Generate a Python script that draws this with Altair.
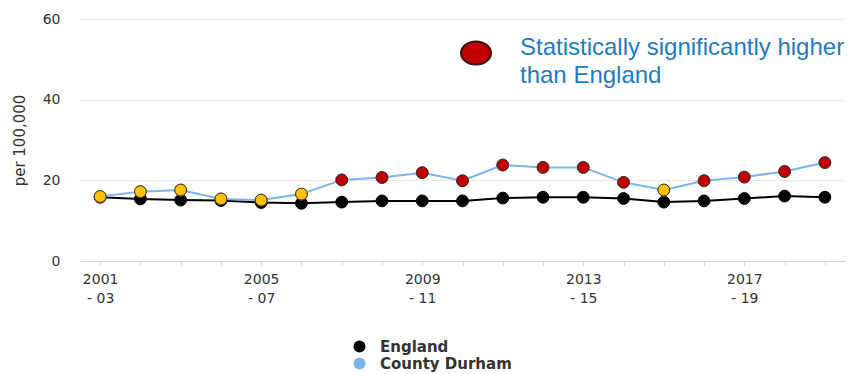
import altair as alt
import pandas as pd

# Three-year rolling periods
periods = [
    "2001 - 03", "2002 - 04", "2003 - 05", "2004 - 06", "2005 - 07",
    "2006 - 08", "2007 - 09", "2008 - 10", "2009 - 11", "2010 - 12",
    "2011 - 13", "2012 - 14", "2013 - 15", "2014 - 16", "2015 - 17",
    "2016 - 18", "2017 - 19", "2018 - 20", "2019 - 21",
]

# Rates per 100,000
england = [15.8, 15.4, 15.1, 15.0, 14.5, 14.3, 14.6, 14.9, 14.9, 14.9,
           15.6, 15.8, 15.8, 15.5, 14.6, 14.9, 15.5, 16.1, 15.8]
durham = [16.0, 17.2, 17.6, 15.4, 15.1, 16.6, 20.1, 20.7, 21.9, 19.9,
          23.8, 23.2, 23.2, 19.5, 17.6, 19.9, 20.8, 22.2, 24.4]

# County Durham compared with England
significance = (["Similar"] * 6 + ["Higher"] * 8 + ["Similar"] + ["Higher"] * 4)

series_names = ["England", "County Durham"]
series_colors = ["#000000", "#7cb5ec"]
sig_names = ["Similar", "Higher"]
sig_colors = ["#ffc000", "#c00000"]

rows = []
for i, p in enumerate(periods):
    rows.append({"period": p, "series": "England", "value": england[i], "sig": "England"})
    rows.append({"period": p, "series": "County Durham", "value": durham[i], "sig": significance[i]})
df = pd.DataFrame(rows)

FONT = "DejaVu Sans"
TEXT = "#333333"

ellipse = "M-1,0 A1,0.77 0 1,0 1,0 A1,0.77 0 1,0 -1,0 Z"

x_enc = alt.X(
    "period:N",
    sort=periods,
    scale=alt.Scale(type="point", padding=0.5),
    axis=alt.Axis(
        title=None,
        labelAngle=0,
        labelFont=FONT,
        labelFontSize=14,
        labelColor=TEXT,
        labelLineHeight=19,
        labelPadding=7,
        tickSize=4,
        tickColor="#ccd6eb",
        domainColor="#ccd6eb",
        grid=False,
        labelExpr="(toNumber(substring(datum.label, 0, 4)) - 2001) % 4 == 0 ? "
                  "[substring(datum.label, 0, 4), substring(datum.label, 5)] : ''",
    ),
)
y_enc = alt.Y(
    "value:Q",
    scale=alt.Scale(domain=[0, 60]),
    axis=alt.Axis(
        title="per 100,000",
        titleFont=FONT,
        titleFontSize=15,
        titleFontWeight="normal",
        titleColor=TEXT,
        titlePadding=15,
        values=[0, 20, 40, 60],
        labelFont=FONT,
        labelFontSize=14,
        labelColor=TEXT,
        labelPadding=20,
        ticks=False,
        tickSize=0,
        domain=False,
        gridColor="#e6e6e6",
    ),
)
color_scale = alt.Scale(domain=series_names, range=series_colors)

series_legend = alt.Legend(
    title=None,
    orient="none",
    legendX=272,
    legendY=320,
    padding=0,
    symbolSize=144,
    symbolStrokeWidth=2,
    symbolOpacity=1,
    labelFont=FONT,
    labelFontSize=15,
    labelFontWeight="bold",
    labelColor=TEXT,
    labelOffset=13,
    rowPadding=1,
)

lines = alt.Chart(df).mark_line(strokeWidth=2).encode(
    x=x_enc,
    y=y_enc,
    color=alt.Color("series:N", scale=color_scale, legend=None),
    detail="series:N",
)

# Series markers, which also carry the legend
base_points = alt.Chart(df).mark_point(filled=True, size=140, opacity=1, strokeWidth=1).encode(
    x=x_enc,
    y=y_enc,
    fill=alt.Fill("series:N", scale=color_scale, sort=series_names, legend=series_legend),
    stroke=alt.Stroke("series:N", scale=color_scale, sort=series_names, legend=series_legend),
)

# County Durham markers coloured by comparison with England
durham_points = alt.Chart(df).transform_filter(
    alt.datum.series == "County Durham"
).mark_point(filled=True, size=140, opacity=1, stroke="#3a2a1a", strokeWidth=1).encode(
    x=x_enc,
    y=y_enc,
    fill=alt.Fill("sig:N", scale=alt.Scale(domain=sig_names, range=sig_colors), legend=None),
)

key_df = pd.DataFrame({"k": [0]})
key_dot = alt.Chart(key_df).mark_point(
    shape=ellipse, size=900, filled=True, fill="#c00000", stroke="#3a1010",
    strokeWidth=2, opacity=1,
).encode(x=alt.value(396), y=alt.value(34))

key_text = alt.Chart(key_df).mark_text(
    text=["Statistically significantly higher", "than England"],
    font="Liberation Sans",
    fontSize=24,
    color="#1f7bc1",
    align="left",
    baseline="alphabetic",
    lineHeight=28,
).encode(x=alt.value(440), y=alt.value(36))

chart = alt.layer(lines, base_points, durham_points, key_dot, key_text).resolve_scale(
    fill="independent"
).properties(
    width=765,
    height=242,
    autosize=alt.AutoSizeParams(type="none"),
    padding={"left": 80, "top": 19, "right": 8, "bottom": 113},
    background="white",
).configure_view(stroke=None)

chart.save("out.html", embed_options={"renderer": "svg", "actions": False})
